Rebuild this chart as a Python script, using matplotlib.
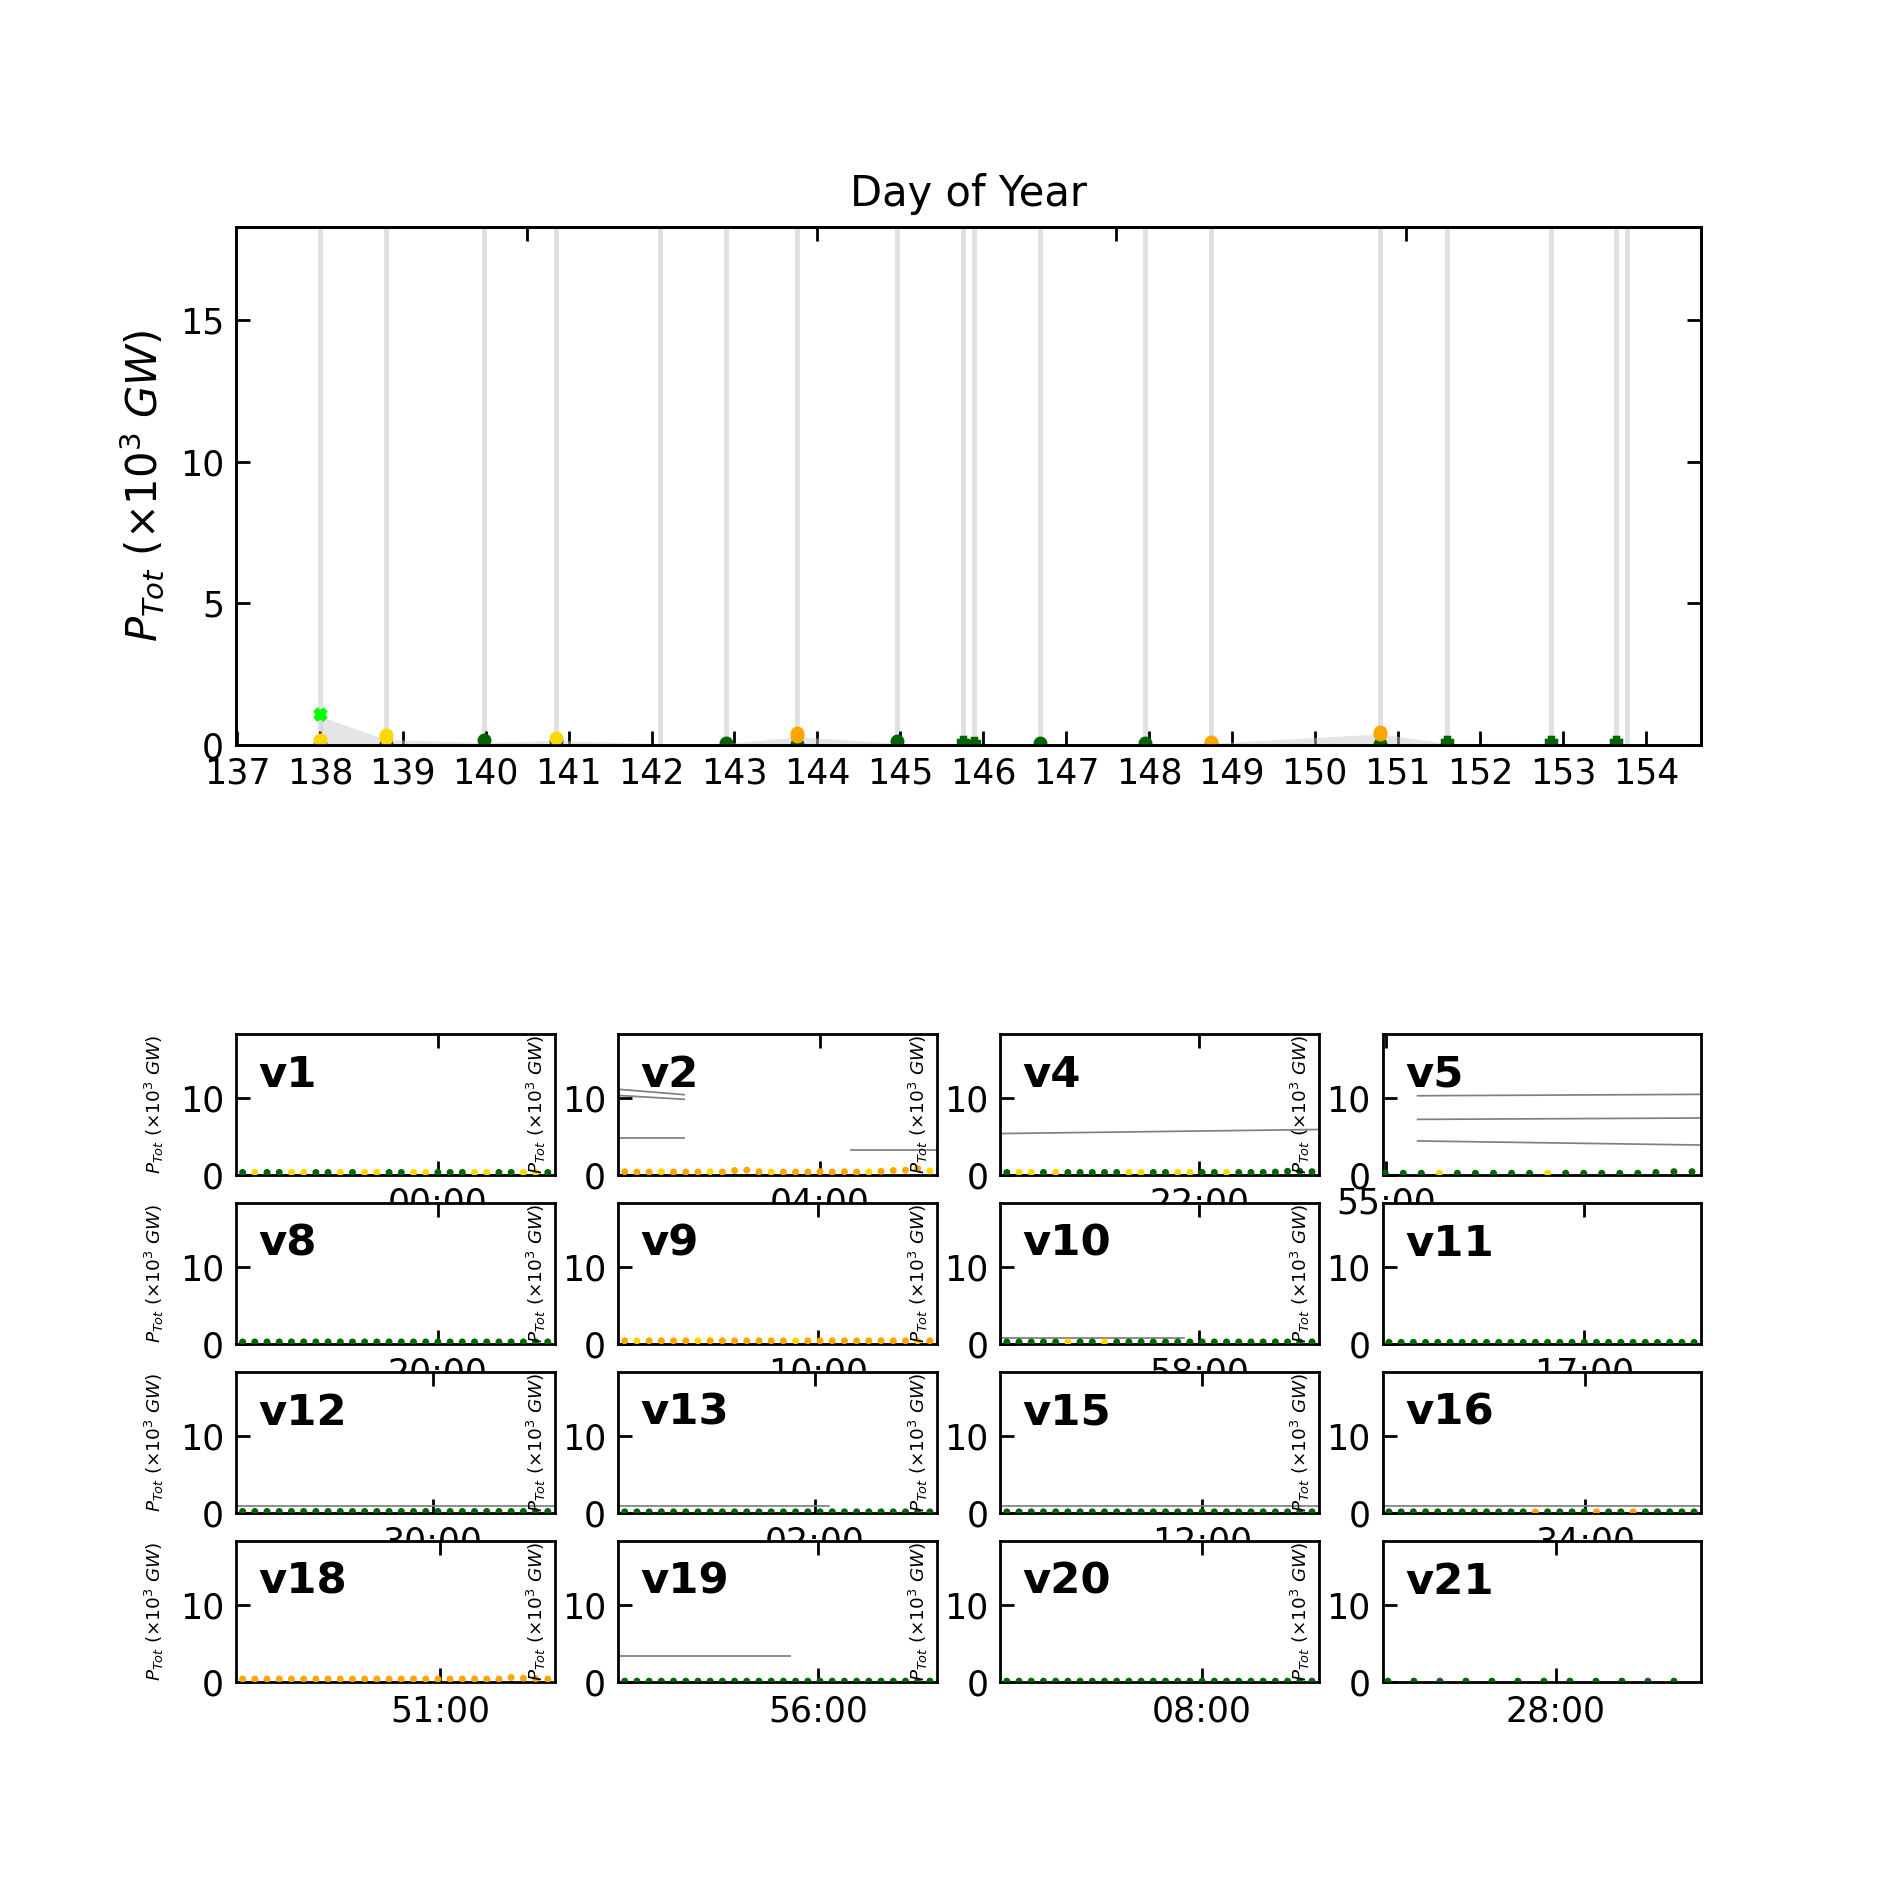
import matplotlib
matplotlib.use('Agg')
import matplotlib.pyplot as plt

# event days (gray bands in the overview)
event_days = [138.00, 138.80, 139.98, 140.85, 142.10, 142.90, 143.76, 144.96, 145.76,
              145.89, 146.69, 147.95, 148.75, 150.79, 151.59, 152.85, 153.64, 153.77]
# light gray envelope drawn under the markers
envelope = [1.0, 0.18, 0.08, 0.15, 0.04, 0.04, 0.28, 0.05, 0.02,
            0.02, 0.02, 0.02, 0.05, 0.38, 0.05, 0.04, 0.02, 0.0]

lime_day = [138.0]
lime_val = [1.1]
gold_day = [138.0, 138.8, 138.8, 140.85]
gold_val = [0.15, 0.35, 0.25, 0.22]
orange_day = [143.76, 143.76, 148.75, 150.79, 150.79]
orange_val = [0.42, 0.30, 0.10, 0.45, 0.36]
green_day = [138.0, 138.8, 139.98, 140.85, 142.90, 143.76, 144.96, 146.69, 147.95, 148.75, 150.79]
green_val = [0.03, 0.04, 0.15, 0.12, 0.05, 0.03, 0.12, 0.07, 0.05, 0.02, 0.03]
plus_day = [145.76, 145.89, 151.59, 152.85, 153.64]
plus_val = [0.08, 0.05, 0.10, 0.10, 0.08]

top_ticks = [140.5, 144.0, 147.6, 151.1]

# zoom panels
names = ['v1', 'v2', 'v4', 'v5', 'v8', 'v9', 'v10', 'v11',
         'v12', 'v13', 'v15', 'v16', 'v18', 'v19', 'v20', 'v21']
tick_min = [38, 38, 37.5, 0.6, 38, 37.6, 37.5, 38,
            37, 37, 38, 38.2, 38.4, 37.7, 38, 32.6]
tick_lab = ['00:00', '04:00', '22:00', '55:00', '20:00', '10:00', '58:00', '17:00',
            '30:00', '02:00', '12:00', '34:00', '51:00', '56:00', '08:00', '28:00']

t_min = [1.2, 3.5, 5.8, 8.1, 10.4, 12.7, 15.0, 17.3, 19.6, 21.9, 24.2, 26.5, 28.8,
         31.1, 33.4, 35.7, 38.0, 40.3, 42.6, 44.9, 47.2, 49.5, 51.8, 54.1, 56.4, 58.7]
t_sparse = [1.0, 5.9, 10.8, 15.7, 20.6, 25.5, 30.4, 35.3, 40.2, 45.1, 50.0, 54.9]
t_v5 = [0.5, 3.9, 7.3, 10.7, 14.1, 17.5, 20.9, 24.3, 27.7, 31.1, 34.5, 37.9,
        41.3, 44.7, 48.1, 51.5, 54.9, 58.3]

# per-point colour codes: g = green, o = orange, y = gold
pts = {
    'v1': ('gyggyyggygyyggyygggyyggyyg', [0.3] * 26),
    'v2': ('oooyoooyooooyoooooooyooooy',
           [0.4, 0.35, 0.35, 0.4, 0.35, 0.35, 0.35, 0.4, 0.35, 0.55, 0.6, 0.4, 0.35,
            0.35, 0.35, 0.35, 0.4, 0.35, 0.4, 0.35, 0.35, 0.45, 0.55, 0.6, 0.8, 0.5]),
    'v4': ('gyygygggggyyggyyggyggggggg', [0.3] * 22 + [0.35, 0.45, 0.45, 0.4]),
    'v5': ('gggygggggygggggggg', [0.2] * 15 + [0.3, 0.4, 0.4]),
    'v8': ('g' * 26, [0.25] * 26),
    'v9': ('oyooooyoooooooyoooooooooyo', [0.4] * 26),
    'v10': ('gggggyggyggggggggggggggggg', [0.25] * 26),
    'v11': ('g' * 26, [0.2] * 26),
    'v12': ('g' * 26, [0.2] * 26),
    'v13': ('g' * 26, [0.15] * 26),
    'v15': ('g' * 26, [0.15] * 26),
    'v16': ('ggggggggggggoggggoggoggggg', [0.15] * 26),
    'v18': ('o' * 26, [0.4] * 22 + [0.6, 0.5, 0.45, 0.4]),
    'v19': ('g' * 26, [0.12] * 26),
    'v20': ('g' * 26, [0.12] * 26),
    'v21': ('g' * 12, [0.12] * 12),
}

# thin gray traces: (x0, x1, y0, y1) in minutes / 1e3 GW
traces = {
    'v2': [(0, 12.4, 11.1, 10.4), (0, 12.4, 10.3, 9.8), (0, 12.4, 4.8, 4.8), (43.8, 60, 3.16, 3.16)],
    'v4': [(0, 60, 5.35, 5.88)],
    'v5': [(6.6, 60, 10.26, 10.44), (6.6, 60, 7.19, 7.37), (6.6, 60, 4.39, 3.86)],
    'v10': [(0, 34.6, 0.8, 0.8)],
    'v12': [(0, 60, 0.96, 0.96)],
    'v13': [(0, 39.6, 0.92, 0.92)],
    'v15': [(0, 60, 0.92, 0.92)],
    'v16': [(0, 60, 0.92, 0.92)],
    'v19': [(0, 32.4, 3.38, 3.38)],
}

cmap = {'g': 'darkgreen', 'o': 'orange', 'y': 'gold'}
ylab = r'$P_{Tot}\ (\times10^3\ GW)$'
YMAX = 18.3

fig = plt.figure(figsize=(7.56, 7.56), dpi=250)

ax = fig.add_axes([0.125, 0.606, 0.775, 0.274])
for d in event_days:
    ax.axvline(d, color='0.88', lw=1.4, zorder=1)
ax.fill_between(event_days, 0, envelope, color='0.8', alpha=0.5, lw=0, zorder=2)
ax.plot(green_day, green_val, 'o', color='darkgreen', ms=3, zorder=3)
ax.plot(plus_day, plus_val, 'P', color='darkgreen', ms=3, zorder=3)
ax.plot(gold_day, gold_val, 'o', color='gold', ms=3, zorder=3)
ax.plot(orange_day, orange_val, 'o', color='orange', ms=3, zorder=3)
ax.plot(lime_day, lime_val, 'X', color='lime', ms=3, zorder=3)
ax.set_xlim(136.99, 154.66)
ax.set_ylim(0, YMAX)
ax.set_xticks(range(137, 155))
ax.set_yticks([0, 5, 10, 15])
ax.tick_params(direction='in', length=4, right=True, labelsize=10)
ax.set_ylabel(ylab, fontsize=12)
ax.set_title('Day of Year', fontsize=12)
axt = ax.twiny()
axt.set_xlim(ax.get_xlim())
axt.set_xticks(top_ticks)
axt.tick_params(direction='in', length=4, labeltop=False)

gs = fig.add_gridspec(4, 4, left=0.125, right=0.9, bottom=0.11, top=0.453,
                      wspace=0.2, hspace=0.2)
for i, name in enumerate(names):
    a = fig.add_subplot(gs[i // 4, i % 4])
    for x0, x1, y0, y1 in traces.get(name, []):
        a.plot([x0, x1], [y0, y1], color='gray', lw=0.5)
    codes, vals = pts[name]
    if name == 'v21':
        xs = t_sparse
    elif name == 'v5':
        xs = t_v5
    else:
        xs = t_min
    a.scatter(xs, vals, c=[cmap[c] for c in codes], s=4, zorder=3, lw=0)
    a.set_xlim(0, 60)
    a.set_ylim(0, YMAX)
    a.set_yticks([0, 10])
    a.set_xticks([tick_min[i]])
    a.set_xticklabels([tick_lab[i]])
    a.tick_params(direction='in', length=4, top=True, labelsize=10)
    a.set_ylabel(ylab, fontsize=5.3)
    a.text(0.07, 0.86, name, transform=a.transAxes, fontsize=12.5,
           fontweight='bold', va='top', ha='left')

fig.savefig('out.png', dpi=250)
